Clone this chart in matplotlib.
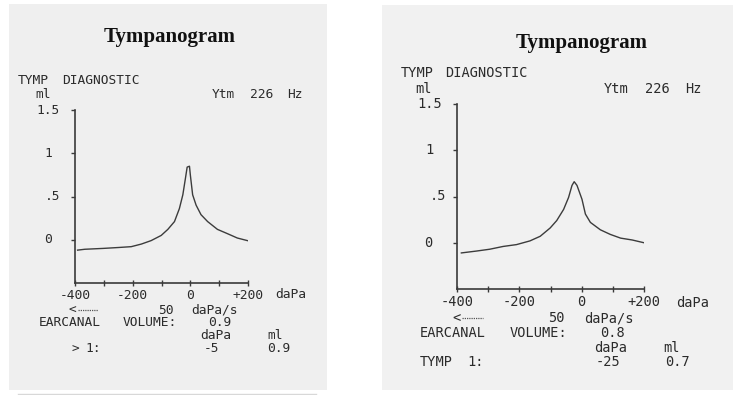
import matplotlib
matplotlib.use('Agg')
import matplotlib.pyplot as plt
from matplotlib.patches import Rectangle
from matplotlib.lines import Line2D

W, H = 742, 395

# ---------------- data ----------------
left_pressure = [-391, -366, -302, -251, -205, -170, -136, -101, -78, -55, -38, -26,
                 -17, -11, -3, 0, 8, 20, 37, 60, 94, 129, 163, 198]
left_compliance = [-0.12, -0.11, -0.10, -0.09, -0.08, -0.05, -0.01, 0.05, 0.12, 0.21,
                   0.36, 0.52, 0.71, 0.84, 0.85, 0.75, 0.52, 0.40, 0.29, 0.21, 0.12,
                   0.07, 0.02, -0.01]
right_pressure = [-386, -338, -295, -252, -209, -166, -133, -101, -80, -58, -42, -31,
                  -24, -15, 1, 12, 28, 60, 92, 125, 162, 200]
right_compliance = [-0.11, -0.09, -0.07, -0.04, -0.02, 0.02, 0.07, 0.16, 0.24, 0.36,
                    0.49, 0.62, 0.66, 0.62, 0.47, 0.31, 0.22, 0.14, 0.09, 0.05, 0.03, 0.0]

x_ticks = [-400, -300, -200, -100, 0, 100, 200]
x_labels = ['-400', '', '-200', '', '0', '', '+200']
y_ticks = [0, 0.5, 1, 1.5]
y_labels = ['0', '.5', '1', '1.5']

ear_volume = ['0.9', '0.8']
peak_pressure = ['-5', '-25']
peak_compliance = ['0.9', '0.7']
tymp_label = [['>', '1:'], ['TYMP', '1:']]

# ---------------- layout ----------------
fig = plt.figure(figsize=(W / 100, H / 100), dpi=100)
fig.patch.set_facecolor('white')


def fx(x):
    return x / W


def fy(y):
    return 1 - y / H


MONO = 'DejaVu Sans Mono'
TXT = '#2b2b2b'

panels = [
    dict(paper=(9, 4, 327, 390), ax=(75, 110, 248, 283), fs=9.3,
         title=(170, 37),
         diag=([33, 101], 80), ml=(43, 95), ytm=([223, 262, 295], 95),
         ylab_x=[48, 53, 48, 48.5],
         dapa_x=(291, 295), arrow=(72, 78, 98, 310), rate=([166, 215], 310),
         ecv=([70, 150], 322), ecv_val=(220, 322), hdr=([215.5, 275], 335.5),
         tymp=([75, 93.5], 349), pp=(211.5, 349), pc=(279, 349),
         px=left_pressure, py=left_compliance, paper_col='#efefef'),
    dict(paper=(382, 5, 733, 390), ax=(457, 104, 644, 289), fs=9.8,
         title=(582, 43),
         diag=([417, 486], 73), ml=(423, 89), ytm=([616, 657, 693], 89),
         ylab_x=[428, 438, 429, 430],
         dapa_x=(693, 303), arrow=(456, 462, 483, 318), rate=([556, 609], 318),
         ecv=([452.5, 539], 333), ecv_val=(612.5, 333), hdr=([611, 671.5], 347.5),
         tymp=([436.5, 476], 361.5), pp=(608.5, 361.5), pc=(677, 361.5),
         px=right_pressure, py=right_compliance, paper_col='#f1f1f1'),
]

for i, p in enumerate(panels):
    x0, y0, x1, y1 = p['paper']
    fig.patches.append(Rectangle((fx(x0), fy(y1)), fx(x1) - fx(x0), fy(y0) - fy(y1),
                                 transform=fig.transFigure, facecolor=p['paper_col'],
                                 edgecolor='none', zorder=-5))
    ax0, ay0, ax1, ay1 = p['ax']
    ax = fig.add_axes([fx(ax0), fy(ay1), fx(ax1) - fx(ax0), fy(ay0) - fy(ay1)])
    ax.set_zorder(2)
    ax.set_facecolor('none')
    ax.plot(p['px'], p['py'], color='#3c3c3c', lw=1.0)
    ax.set_xlim(-400, 200)
    ax.set_ylim(-0.5, 1.5)
    for s in ['top', 'right']:
        ax.spines[s].set_visible(False)
    for s in ['left', 'bottom']:
        ax.spines[s].set_color('#3a3a3a')
        ax.spines[s].set_linewidth(1.2)
    ax.set_xticks(x_ticks)
    ax.set_xticklabels(x_labels, fontfamily=MONO, fontsize=p['fs'], color=TXT)
    ax.set_yticks(y_ticks)
    ax.set_yticklabels([])
    ax.tick_params(axis='x', direction='inout', length=4, width=1, color='#3a3a3a', pad=2)
    ax.tick_params(axis='y', direction='out', length=3, width=1, color='#3a3a3a')
    for v, lab, lx in zip(y_ticks, y_labels, p['ylab_x']):
        yy = ay1 - (v + 0.5) / 2.0 * (ay1 - ay0)
        fig.text(fx(lx), fy(yy), lab, fontfamily=MONO, fontsize=p['fs'],
                 color=TXT, ha='center', va='center')

    def T(x, y, s):
        fig.text(fx(x), fy(y), s, fontfamily=MONO, fontsize=p['fs'],
                 color=TXT, ha='center', va='center')

    def TW(xs, y, words):
        for xx, w in zip(xs, words):
            T(xx, y, w)

    fig.text(fx(p['title'][0]), fy(p['title'][1]), 'Tympanogram',
             fontfamily='Liberation Serif', fontweight='bold', fontsize=15,
             color='#111111', ha='center', va='center')
    TW(p['diag'][0], p['diag'][1], ['TYMP', 'DIAGNOSTIC'])
    T(p['ml'][0], p['ml'][1], 'ml')
    TW(p['ytm'][0], p['ytm'][1], ['Ytm', '226', 'Hz'])
    T(p['dapa_x'][0], p['dapa_x'][1], 'daPa')
    ax_, l0, l1, ay = p['arrow']
    T(ax_, ay, '<')
    fig.add_artist(Line2D([fx(l0), fx(l1)], [fy(ay), fy(ay)], color='#555555',
                          lw=0.9, ls=(0, (1, 0.8)), transform=fig.transFigure))
    TW(p['rate'][0], p['rate'][1], ['50', 'daPa/s'])
    TW(p['ecv'][0], p['ecv'][1], ['EARCANAL', 'VOLUME:'])
    T(p['ecv_val'][0], p['ecv_val'][1], ear_volume[i])
    TW(p['hdr'][0], p['hdr'][1], ['daPa', 'ml'])
    TW(p['tymp'][0], p['tymp'][1], tymp_label[i])
    T(p['pp'][0], p['pp'][1], peak_pressure[i])
    T(p['pc'][0], p['pc'][1], peak_compliance[i])

fig.add_artist(Line2D([fx(18), fx(316)], [fy(394), fy(394)], color='#d8d8d8', lw=1,
                      transform=fig.transFigure))

fig.savefig('out.png', dpi=100, facecolor='white')
